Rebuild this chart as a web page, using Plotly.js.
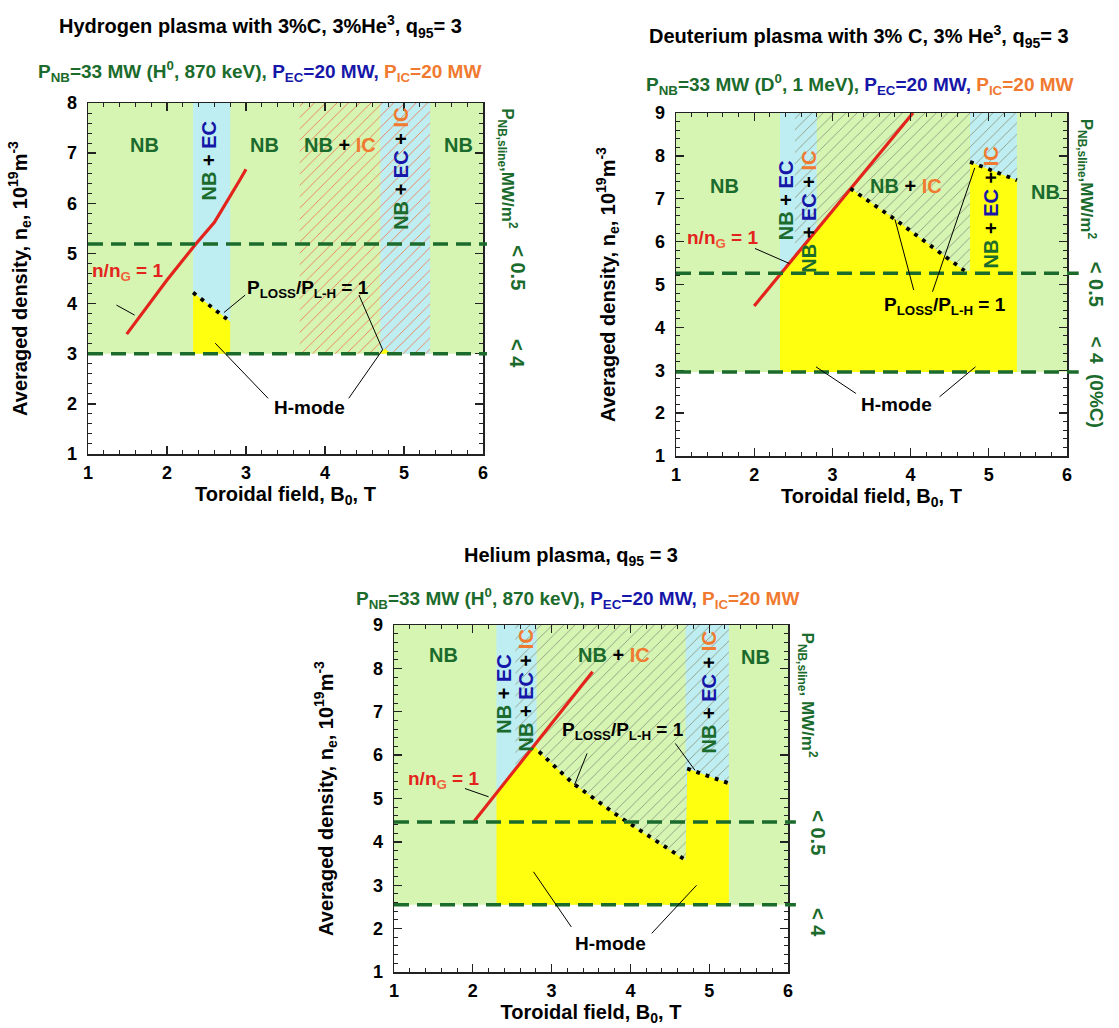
<!DOCTYPE html>
<html><head><meta charset="utf-8">
<script src="https://cdn.plot.ly/plotly-3.0.1.min.js"></script>
<style>html,body{margin:0;padding:0;background:#fff}</style>
</head><body><div id="chart" style="width:1119px;height:1028px"></div>
<script>
// ================= DATA =================
// common
const B_RANGE = [1, 6];
const B_TICKS = [1, 2, 3, 4, 5, 6];

// ---- Panel 1: Hydrogen plasma ----
const H_N_RANGE = [1, 8];
const H_GREEN_N = [3.0, 8];                 // NB heated region (density limits)
const H_EC_BANDS = [[2.33, 2.80], [4.70, 5.33]];
const H_IC_BAND = [3.68, 5.33];
const H_DASH_N = [5.19, 3.0];
const H_GW_B = [1.49, 2.0, 2.37, 2.6, 2.92, 3.0];   // n/nG = 1
const H_GW_N = [3.39, 4.47, 5.2, 5.62, 6.46, 6.68];
const H_LH_B = [[2.33, 2.80]];                       // P_LOSS/P_L-H = 1
const H_LH_N = [[4.22, 3.64]];
const H_HM_B = [[2.33, 2.33, 2.80, 2.80], [4.68, 4.76, 4.84]];  // H-mode
const H_HM_N = [[3.0, 4.22, 3.64, 3.0], [3.0, 3.1, 3.0]];
const H_LEADERS = [[1.36, 3.97, 1.59, 3.77], [2.99, 4.17, 2.72, 3.82], [4.43, 4.17, 4.73, 3.08],
                   [2.61, 3.21, 3.28, 2.11], [4.30, 2.11, 4.73, 3.08]];

// ---- Panel 2: Deuterium plasma ----
const D_N_RANGE = [1, 9];
const D_GREEN_N = [2.96, 9];
const D_EC_BANDS = [[2.33, 2.80], [4.76, 5.36]];
const D_IC_BAND = [2.52, 5.36];
const D_DASH_N = [5.26, 2.96];
const D_GW_B = [2.0, 4.03];
const D_GW_N = [4.5, 9.0];
const D_LH_B = [[3.23, 3.80, 4.46, 4.69], [4.76, 5.36]];
const D_LH_N = [[7.24, 6.52, 5.63, 5.32], [7.86, 7.43]];
const D_HM_B = [[2.33, 2.33, 3.23, 3.80, 4.46, 4.69, 4.76, 4.76, 5.36, 5.36]];
const D_HM_N = [[2.96, 5.24, 7.24, 6.52, 5.63, 5.32, 5.32, 7.86, 7.43, 2.96]];
const D_LEADERS = [[2.01, 5.84, 2.45, 5.49], [4.04, 4.87, 3.80, 6.52], [4.28, 4.83, 4.82, 7.72],
                   [2.79, 3.08, 3.30, 2.46], [4.37, 2.38, 4.83, 3.08]];

// ---- Panel 3: Helium plasma ----
const E_N_RANGE = [1, 9];
const E_GREEN_N = [2.55, 9];
const E_EC_BANDS = [[2.30, 2.81], [4.70, 5.25]];
const E_IC_BAND = [2.54, 5.25];
const E_DASH_N = [4.46, 2.55];
const E_GW_B = [2.01, 3.52];
const E_GW_N = [4.46, 7.92];
const E_LH_B = [[2.84, 3.27, 3.86, 4.36, 4.70], [4.72, 5.25]];
const E_LH_N = [[6.08, 5.35, 4.58, 3.97, 3.58], [5.69, 5.35]];
const E_HM_B = [[2.30, 2.30, 2.78, 2.84, 3.27, 3.86, 4.36, 4.70, 4.72, 5.25, 5.25]];
const E_HM_N = [[2.55, 5.10, 6.25, 6.08, 5.35, 4.58, 3.97, 3.58, 5.69, 5.35, 2.55]];
const E_LEADERS = [[1.90, 5.23, 2.20, 5.04], [3.45, 6.04, 3.29, 5.31], [4.57, 6.27, 4.82, 5.65],
                   [2.77, 3.31, 3.25, 2.04], [4.27, 1.89, 4.84, 3.0]];

// ================= STYLE =================
const FONT = 'Liberation Sans, Arial, sans-serif';
const C_GREEN_BG = '#d6f5b2', C_CYAN = '#bfeef2', C_YELLOW = '#ffff10';
const C_DG = '#1b6b2c', C_BLUE = '#1616a8', C_OR = '#f07a30', C_RED = '#e3241d';
const W = 1119, H = 1028;
const px = v => v / W, py = v => 1 - v / H;
const bFrac = v => (v - B_RANGE[0]) / (B_RANGE[1] - B_RANGE[0]);

const g = t => `<span style="color:${C_DG}">${t}</span>`;
const b = t => `<span style="color:${C_BLUE}">${t}</span>`;
const o = t => `<span style="color:${C_OR}">${t}</span>`;

const traces = [], shapes = [], annotations = [];

function buildPanel(id, P) {
  const xr = 'x' + id, yr = 'y' + id;
  // backgrounds
  shapes.push({type:'rect', xref:xr, yref:yr, x0:B_RANGE[0], x1:B_RANGE[1], y0:P.green[0], y1:P.green[1],
               fillcolor:C_GREEN_BG, line:{width:0}, layer:'below'});
  P.ec.forEach(bd => shapes.push({type:'rect', xref:xr, yref:yr, x0:bd[0], x1:bd[1], y0:P.green[0], y1:P.green[1],
               fillcolor:C_CYAN, line:{width:0}, layer:'below'}));
  // IC hatch
  traces.push({type:'scatter', xaxis:xr, yaxis:yr, mode:'lines', hoverinfo:'skip',
    x:[P.ic[0], P.ic[1], P.ic[1], P.ic[0], P.ic[0]],
    y:[P.green[0], P.green[0], P.green[1], P.green[1], P.green[0]],
    fill:'toself', fillcolor:'rgba(0,0,0,0)', line:{width:0},
    fillpattern:{shape:'/', fgcolor:P.hatch, bgcolor:'rgba(0,0,0,0)', size:8, solidity:0.11, fillmode:'replace'}});
  // H-mode areas
  P.hmB.forEach((xs, i) => traces.push({type:'scatter', xaxis:xr, yaxis:yr, mode:'lines', hoverinfo:'skip',
    x:xs, y:P.hmN[i], fill:'toself', fillcolor:C_YELLOW, line:{width:0}}));
  // Greenwald line
  traces.push({type:'scatter', xaxis:xr, yaxis:yr, mode:'lines', hoverinfo:'skip',
    x:P.gwB, y:P.gwN, line:{color:C_RED, width:3.2}});
  // L-H threshold
  P.lhB.forEach((xs, i) => traces.push({type:'scatter', xaxis:xr, yaxis:yr, mode:'lines', hoverinfo:'skip',
    x:xs, y:P.lhN[i], line:{color:'#000', width:3.8, dash:'3.8px,6px'}}));
  // dashed density limits
  P.dash.forEach(v => shapes.push({type:'line', xref:xr + ' domain', yref:yr, x0:0, x1:P.dashEnd, y0:v, y1:v,
    line:{color:C_DG, width:3.5, dash:'15px,8px'}, layer:'above'}));
  // leader lines
  P.leaders.forEach(l => shapes.push({type:'line', xref:xr, yref:yr, x0:l[0], y0:l[1], x1:l[2], y1:l[3],
    line:{color:'#000', width:1}, layer:'above'}));
  // labels (positions in B / n units; drawn through the x-domain so labels right of the frame show)
  P.labels.forEach(L => annotations.push({xref:xr + ' domain', yref:yr, x:bFrac(L[0]), y:L[1], text:'<b>' + L[2] + '</b>',
    showarrow:false, textangle:L[4] || 0, xanchor:'center', yanchor:'middle',
    font:{family:FONT, size:L[3], color:L[5] || '#000'}}));
}

const NB = g('NB');
const NBEC = `${g('NB')} + ${b('EC')}`;
const NBECIC = `${g('NB')} + ${b('EC')} + ${o('IC')}`;
const NBIC = `${g('NB')} + ${o('IC')}`;
const NG = `<span style="color:${C_RED}">n/n<sub><span style="color:#f0603a">G</span></sub> = 1</span>`;
const PL = 'P<sub>LOSS</sub>/P<sub>L-H</sub> = 1';
const HM = 'H-mode';
const RLAB = 'P<sub>NB,sline</sub>,MW/m<sup>2</sup>';

buildPanel('', {green:H_GREEN_N, ec:H_EC_BANDS, ic:H_IC_BAND, hatch:'#ee7a52', hmB:H_HM_B, hmN:H_HM_N,
  gwB:H_GW_B, gwN:H_GW_N, lhB:H_LH_B, lhN:H_LH_N, dash:H_DASH_N, dashEnd:1.01, leaders:H_LEADERS,
  labels:[[1.72, 7.16, NB, 20], [3.24, 7.16, NB, 20], [4.19, 7.16, NBIC, 20], [5.69, 7.16, NB, 20],
          [2.53, 6.85, NBEC, 20, -90], [4.97, 6.68, NBECIC, 20, -90],
          [1.5, 4.62, NG, 19], [3.78, 4.3, PL, 19], [3.80, 1.92, HM, 19],
          [6.31, 6.69, RLAB, 17, 90, C_DG], [6.44, 4.71, '&lt; 0.5', 20, 90, C_DG], [6.44, 3.0, '&lt; 4', 20, 90, C_DG]]});

buildPanel('2', {green:D_GREEN_N, ec:D_EC_BANDS, ic:D_IC_BAND, hatch:'#8c9a80', hmB:D_HM_B, hmN:D_HM_N,
  gwB:D_GW_B, gwN:D_GW_N, lhB:D_LH_B, lhN:D_LH_N, dash:D_DASH_N, dashEnd:1.03, leaders:D_LEADERS,
  labels:[[1.62, 7.3, NB, 20], [3.94, 7.3, NBIC, 20], [5.72, 7.16, NB, 20],
          [2.41, 6.95, NBEC, 20, -90], [2.69, 6.7, NBECIC, 20, -90], [5.03, 6.8, NBECIC, 20, -90],
          [1.60, 6.05, NG, 19], [4.44, 4.5, PL, 19], [3.82, 2.21, HM, 19],
          [6.26, 7.46, RLAB, 17, 90, C_DG], [6.38, 5.0, '&lt; 0.5', 20, 90, C_DG],
          [6.38, 2.72, '&lt; 4&nbsp;&nbsp;(0%C)', 19, 90, C_DG]]});

buildPanel('3', {green:E_GREEN_N, ec:E_EC_BANDS, ic:E_IC_BAND, hatch:'#8c9a80', hmB:E_HM_B, hmN:E_HM_N,
  gwB:E_GW_B, gwN:E_GW_N, lhB:E_LH_B, lhN:E_LH_N, dash:E_DASH_N, dashEnd:1.02, leaders:E_LEADERS,
  labels:[[1.63, 8.3, NB, 20], [3.79, 8.3, NBIC, 20], [5.59, 8.27, NB, 20],
          [2.40, 7.4, NBEC, 20, -90], [2.68, 7.5, NBECIC, 20, -90], [5.0, 7.45, NBECIC, 20, -90],
          [1.63, 5.42, NG, 19], [3.91, 6.55, PL, 19], [3.75, 1.66, HM, 19],
          [6.25, 7.38, 'P<sub>NB,sline</sub>, MW/m<sup>2</sup>', 17, 90, C_DG], [6.38, 4.2, '&lt; 0.5', 20, 90, C_DG],
          [6.38, 2.13, '&lt; 4', 20, 90, C_DG]]});

// titles
const titles = [
  [260, 26, '<b>Hydrogen plasma with 3%C, 3%He<sup>3</sup>, q<sub>95</sub>= 3</b>', 20],
  [259, 72, `<b>${g('P<sub>NB</sub>=33 MW (H<sup>0</sup>, 870 keV), ')}${b('P<sub>EC</sub>=20 MW, ')}${o('P<sub>IC</sub>=20 MW')}</b>`, 19],
  [859, 37, '<b>Deuterium plasma with 3% C, 3% He<sup>3</sup>, q<sub>95</sub>= 3</b>', 20],
  [860, 84, `<b>${g('P<sub>NB</sub>=33 MW (D<sup>0</sup>, 1 MeV), ')}${b('P<sub>EC</sub>=20 MW, ')}${o('P<sub>IC</sub>=20 MW')}</b>`, 19],
  [571, 556, '<b>Helium plasma, q<sub>95</sub> = 3</b>', 20],
  [577, 598, `<b>${g('P<sub>NB</sub>=33 MW (H<sup>0</sup>, 870 keV), ')}${b('P<sub>EC</sub>=20 MW, ')}${o('P<sub>IC</sub>=20 MW')}</b>`, 19]
];
titles.forEach(t => annotations.push({xref:'paper', yref:'paper', x:px(t[0]), y:py(t[1]), text:t[2], showarrow:false,
  xanchor:'center', yanchor:'middle', font:{family:FONT, size:t[3], color:'#000'}}));

// axes
const tickfont = {family:FONT, size:18, color:'#000', weight:'bold'};
const titlefont = {family:FONT, size:20, color:'#000'};
function xAxis(dom, anchor) {
  return {domain:dom, anchor:anchor, range:B_RANGE, tickvals:B_TICKS, showline:true, linecolor:'#222', linewidth:1.5,
    mirror:'allticks', ticks:'inside', ticklen:8, tickwidth:1.3, tickcolor:'#222', showgrid:false, zeroline:false,
    tickfont:tickfont, ticklabelstandoff:2,
    minor:{dtick:0.2, tick0:0, ticks:'inside', ticklen:4, tickwidth:1, tickcolor:'#222', showgrid:false},
    title:{text:'<b>Toroidal field, B<sub>0</sub>, T</b>', font:titlefont, standoff:3}, fixedrange:true, layer:'above traces'};
}
function yAxis(dom, anchor, rng) {
  const vals = []; for (let v = rng[0]; v <= rng[1]; v++) vals.push(v);
  return {domain:dom, anchor:anchor, range:rng, tickvals:vals, showline:true, linecolor:'#222', linewidth:1.5,
    mirror:'allticks', ticks:'inside', ticklen:8, tickwidth:1.3, tickcolor:'#222', showgrid:false, zeroline:false,
    tickfont:tickfont, ticklabelstandoff:6,
    minor:{dtick:0.2, tick0:0, ticks:'inside', ticklen:4, tickwidth:1, tickcolor:'#222', showgrid:false},
    title:{text:'<b>Averaged density, n<sub>e</sub>, 10<sup>19</sup>m<sup>-3</sup></b>', font:titlefont, standoff:34},
    fixedrange:true, layer:'above traces'};
}

const layout = {
  width:W, height:H, margin:{l:0, r:0, t:0, b:0}, showlegend:false,
  paper_bgcolor:'#fff', plot_bgcolor:'rgba(0,0,0,0)', font:{family:FONT},
  xaxis: xAxis([px(88), px(483)], 'y'),
  yaxis: yAxis([py(454), py(103)], 'x', H_N_RANGE),
  xaxis2: xAxis([px(676), px(1067)], 'y2'),
  yaxis2: yAxis([py(456), py(113)], 'x2', D_N_RANGE),
  xaxis3: xAxis([px(394), px(788)], 'y3'),
  yaxis3: yAxis([py(972), py(625)], 'x3', E_N_RANGE),
  shapes:shapes, annotations:annotations
};

Plotly.newPlot('chart', traces, layout, {staticPlot:true, displayModeBar:false});
</script></body></html>
